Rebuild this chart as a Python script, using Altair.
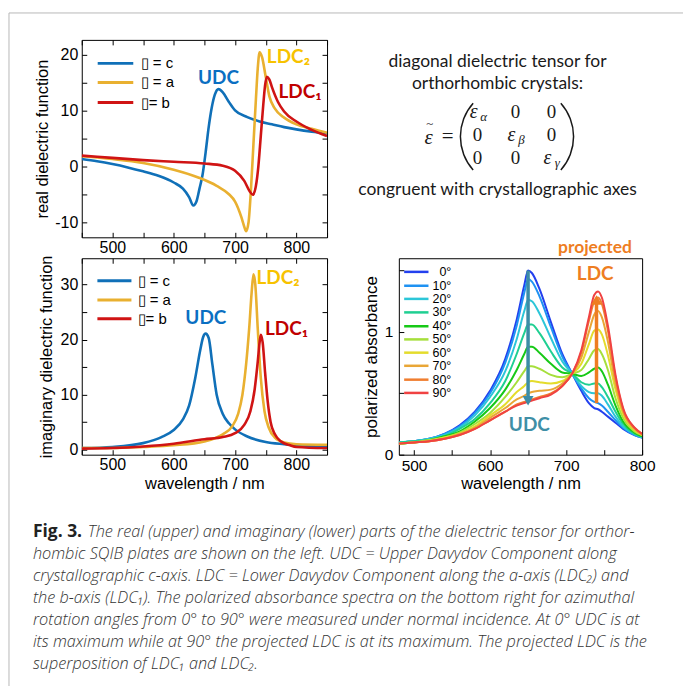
import altair as alt
import pandas as pd

FONT = "Liberation Sans"
ANN = "Lato"

# ---------------- data ----------------
SERIES = ["▯ = c", "▯ = a", "▯= b"]
SERIES_COLORS = ["#1070b8", "#e9b030", "#d01414"]

# real part of the dielectric function
re_c_wl = [450, 475, 500, 525, 550, 575, 600, 615, 625, 632, 637, 642, 647, 652, 657, 662, 667, 673, 680, 690, 700, 720, 740, 760, 780, 800, 825, 850]
re_c = [1.3, 0.9, 0.4, -0.2, -0.9, -1.7, -2.9, -4.0, -5.5, -7.0, -6.3, -4.0, -1.5, 2.5, 7.0, 10.5, 12.8, 13.8, 13.2, 11.5, 10.0, 8.8, 8.0, 7.5, 7.0, 6.6, 6.2, 5.9]
re_a_wl = [450, 500, 550, 600, 640, 670, 690, 700, 710, 715, 718, 722, 726, 730, 734, 737, 740, 744, 750, 756, 765, 780, 800, 825, 850]
re_a = [1.8, 1.3, 0.6, -0.6, -2.0, -3.5, -5.0, -6.3, -9.0, -10.8, -11.6, -10.0, -4.0, 4.0, 12.0, 17.5, 20.4, 19.5, 16.0, 12.5, 10.3, 8.7, 7.5, 6.7, 6.0]
re_b_wl = [450, 500, 550, 600, 650, 680, 700, 715, 724, 729, 734, 738, 742, 746, 749, 752, 756, 760, 770, 780, 800, 825, 850]
re_b = [1.9, 1.5, 1.1, 0.8, 0.5, 0.1, -0.8, -2.6, -4.5, -5.1, -3.5, 0.0, 5.5, 11.0, 14.5, 16.0, 15.5, 14.2, 11.5, 9.8, 8.0, 6.5, 5.4]

# imaginary part of the dielectric function
im_c_wl = [450, 500, 550, 580, 600, 615, 625, 635, 643, 648, 652, 657, 663, 670, 680, 690, 700, 720, 750, 780, 800, 850]
im_c = [0.3, 0.5, 1.2, 2.3, 3.6, 5.5, 8.0, 13.0, 18.0, 20.5, 21.1, 20.3, 15.5, 10.0, 6.5, 4.8, 3.7, 2.4, 1.4, 1.0, 0.8, 0.6]
im_a_wl = [450, 500, 550, 600, 650, 680, 695, 705, 712, 718, 723, 727, 730, 733, 737, 742, 748, 755, 765, 780, 800, 850]
im_a = [0.3, 0.3, 0.5, 0.8, 1.5, 2.8, 4.2, 6.5, 10.0, 15.5, 22.0, 28.5, 31.9, 30.0, 22.0, 13.0, 7.0, 4.0, 2.2, 1.3, 1.0, 0.9]
im_b_wl = [450, 500, 550, 600, 650, 680, 700, 715, 725, 732, 737, 740, 742, 745, 749, 753, 758, 765, 775, 790, 800, 850]
im_b = [0.2, 0.3, 0.6, 1.1, 1.9, 2.3, 3.0, 4.5, 7.0, 11.0, 16.0, 19.5, 20.9, 19.5, 14.0, 9.0, 5.0, 2.8, 1.5, 0.8, 0.5, 0.3]

# polarized absorbance for azimuthal angles
ANGLES = ["0°", "10°", "20°", "30°", "40°", "50°", "60°", "70°", "80°", "90°"]
ANGLE_COLORS = ["#2340ee", "#1f92f2", "#2cc6d8", "#1fcf92", "#17c917", "#a6df3c", "#e4dc2c", "#e9a636", "#f07e30", "#f04242"]
abs_wl = [480, 500, 520, 540, 560, 580, 600, 620, 635, 645, 650, 655, 665, 680, 695, 708, 720, 730, 737, 742, 747, 755, 765, 775, 790, 800]
a0 = [.10, .11, .13, .17, .24, .35, .52, .78, 1.10, 1.38, 1.50, 1.48, 1.35, 1.08, .82, .66, .52, .42, .38, .37, .35, .31, .26, .21, .16, .14]
a10 = [.10, .11, .13, .17, .23, .34, .50, .75, 1.05, 1.32, 1.43, 1.41, 1.29, 1.04, .80, .66, .54, .46, .43, .42, .40, .35, .28, .22, .16, .14]
a20 = [.10, .11, .13, .16, .22, .32, .47, .68, .94, 1.17, 1.26, 1.25, 1.15, .95, .76, .66, .56, .51, .50, .50, .48, .41, .31, .23, .17, .14]
a30 = [.10, .11, .12, .15, .21, .29, .42, .60, .82, .99, 1.06, 1.06, .99, .84, .71, .66, .59, .57, .58, .58, .55, .47, .35, .25, .17, .15]
a40 = [.09, .10, .12, .15, .19, .27, .38, .53, .69, .82, .88, .88, .83, .74, .67, .66, .64, .67, .70, .71, .68, .57, .40, .27, .18, .15]
a50 = [.09, .10, .12, .14, .18, .25, .34, .47, .59, .68, .72, .72, .70, .65, .63, .66, .69, .78, .85, .86, .82, .69, .46, .30, .19, .16]
a60 = [.09, .10, .11, .14, .17, .23, .32, .41, .51, .56, .59, .60, .59, .58, .60, .66, .74, .90, 1.01, 1.02, .98, .81, .53, .33, .20, .16]
a70 = [.09, .10, .11, .13, .17, .22, .30, .38, .45, .48, .50, .51, .52, .53, .58, .66, .79, 1.00, 1.14, 1.17, 1.12, .92, .58, .35, .21, .16]
a80 = [.09, .10, .11, .13, .16, .21, .28, .35, .41, .43, .44, .45, .47, .50, .56, .66, .83, 1.09, 1.25, 1.28, 1.23, 1.01, .63, .37, .22, .17]
a90 = [.09, .10, .11, .13, .16, .21, .28, .35, .40, .42, .43, .44, .46, .49, .56, .66, .85, 1.12, 1.30, 1.33, 1.28, 1.05, .65, .38, .22, .17]
ABS = [a0, a10, a20, a30, a40, a50, a60, a70, a80, a90]

# legend entries (in data units of each panel)
leg_re_y = [18.4, 15.0, 11.4]
leg_im_y = [30.7, 27.2, 23.8]
leg_abs_y = [1.489, 1.376, 1.269, 1.159, 1.046, 0.939, 0.831, 0.724, 0.611, 0.503]

CAPTION = [
    "The real (upper) and imaginary (lower) parts of the dielectric tensor for orthor-",
    "hombic SQIB plates are shown on the left. UDC = Upper Davydov Component along",
    "crystallographic c-axis. LDC = Lower Davydov Component along the a-axis (LDC₂) and",
    "the b-axis (LDC₁). The polarized absorbance spectra on the bottom right for azimuthal",
    "rotation angles from 0° to 90° were measured under normal incidence. At 0° UDC is at",
    "its maximum while at 90° the projected LDC is at its maximum. The projected LDC is the",
    "superposition of LDC₁ and LDC₂.",
]

# ---------------- tables ----------------
def long(pairs):
    rows = []
    for name, wl, vals in pairs:
        for w, v in zip(wl, vals):
            rows.append({"wl": w, "v": v, "series": name})
    return pd.DataFrame(rows)

df_re = long([(SERIES[0], re_c_wl, re_c), (SERIES[1], re_a_wl, re_a), (SERIES[2], re_b_wl, re_b)])
df_im = long([(SERIES[0], im_c_wl, im_c), (SERIES[1], im_a_wl, im_a), (SERIES[2], im_b_wl, im_b)])
df_abs = long([(ang, abs_wl, vals) for ang, vals in zip(ANGLES, ABS)])

ONE = pd.DataFrame({"k": [0]})
FRAME = alt.ViewBackground(stroke="black", strokeWidth=1)
NOFRAME = alt.ViewBackground(stroke="transparent")


def axis(orient, values, expr=None, labels=True, title=None, size=16, pad=3, **extra):
    kw = dict(orient=orient, values=values, offset=-5, tickSize=5, tickColor="black", tickWidth=1,
              domain=False, grid=False, labels=labels, labelFont=FONT, labelFontSize=size,
              labelColor="black", labelFlush=False, labelOverlap=False, labelPadding=pad,
              titleFont=FONT, titleFontSize=16.5, titleFontWeight="normal", titleColor="black",
              title=title)
    if expr:
        kw["labelExpr"] = expr
    kw.update(extra)
    return alt.Axis(**kw)


X_TICKS = [450, 500, 550, 600, 650, 700, 750, 800, 850]
X_EXPR = "datum.value % 100 == 0 && datum.value > 450 && datum.value < 850 ? '' + datum.value : ''"
Y10 = "datum.value % 10 == 0 ? '' + datum.value : ''"
cscale = alt.Scale(domain=SERIES, range=SERIES_COLORS)
xs = alt.Scale(domain=[450, 850], nice=False, zero=False)


def label(text, x, y, color, xs_, ys_, size=19, weight="bold", font=ANN):
    return alt.Chart(pd.DataFrame({"x": [x], "y": [y]})).mark_text(
        text=text, color=color, font=font, fontSize=size, fontWeight=weight,
        align="center", baseline="middle").encode(
        x=alt.X("x:Q", scale=xs_, axis=None), y=alt.Y("y:Q", scale=ys_, axis=None))


def dielectric_panel(df, ys, yticks, title, title_x, leg_y, leg_x, x_title, anns):
    xkw = {"titleY": 34, "titleBaseline": "middle"} if x_title else {}
    lines = alt.Chart(df).mark_line(strokeWidth=2.6, interpolate="monotone", clip=True).encode(
        x=alt.X("wl:Q", scale=xs, axis=axis("bottom", X_TICKS, X_EXPR, title=x_title, pad=2, **xkw)),
        y=alt.Y("v:Q", scale=ys, axis=axis("left", yticks, Y10, title=title, pad=4,
                                           titleX=title_x, titleBaseline="middle")),
        color=alt.Color("series:N", scale=cscale, legend=None),
    )
    mirror = alt.Chart(df).mark_line(strokeOpacity=0).encode(
        x=alt.X("wl:Q", scale=xs, axis=axis("top", X_TICKS, labels=False)),
        y=alt.Y("v:Q", scale=ys, axis=axis("right", yticks, labels=False)),
        detail="series:N",
    )
    leg = pd.DataFrame({"series": SERIES, "x0": [leg_x[0]] * 3, "x1": [leg_x[1]] * 3,
                        "xt": [leg_x[2]] * 3, "y": leg_y})
    leg_rules = alt.Chart(leg).mark_rule(strokeWidth=3).encode(
        x=alt.X("x0:Q", scale=xs, axis=None), x2="x1:Q",
        y=alt.Y("y:Q", scale=ys, axis=None),
        color=alt.Color("series:N", scale=cscale, legend=None))
    leg_text = alt.Chart(leg).mark_text(align="left", baseline="middle", font=FONT, fontSize=15,
                                        color="black").encode(
        x=alt.X("xt:Q", scale=xs, axis=None), y=alt.Y("y:Q", scale=ys, axis=None), text="series:N")
    return [lines, mirror, leg_rules, leg_text] + [label(t, x, y, c, xs, ys) for t, x, y, c in anns]


# ---- top-left: real part ----
ys_re = alt.Scale(domain=[-12.7, 22.6], nice=False, zero=False)
frame_top = alt.Chart(ONE).mark_rule(color="#b8b8b8", strokeWidth=1).encode(
    x=alt.value(-73), x2=alt.value(603), y=alt.value(-27))
frame_left = alt.Chart(ONE).mark_rule(color="#b8b8b8", strokeWidth=1).encode(
    x=alt.value(-73), y=alt.value(-27), y2=alt.value(648))
tl_layers = dielectric_panel(
    df_re, ys_re, [-10, -5, 0, 5, 10, 15, 20], "real dielectric function", -44.5,
    leg_re_y, (476, 534, 546), None,
    [("UDC", 673, 15.8, "#0a6fc2"), ("LDC₂", 787, 19.6, "#f7c200"), ("LDC₁", 806, 13.3, "#c00000")])
TL = alt.layer(frame_top, frame_left, *tl_layers).resolve_axis(x="independent", y="independent").properties(
    width=246, height=198, view=FRAME)

# ---- bottom-left: imaginary part ----
ys_im = alt.Scale(domain=[-0.9, 34.8], nice=False, zero=False)
bl_layers = dielectric_panel(
    df_im, ys_im, [0, 5, 10, 15, 20, 25, 30], "imaginary dielectric function", -40,
    leg_im_y, (475.5, 531, 541), "wavelength / nm",
    [("UDC", 652.4, 23.9, "#0a6fc2"), ("LDC₂", 770, 31.2, "#f7c200"), ("LDC₁", 784, 22, "#c00000")])
BL = alt.layer(*bl_layers).resolve_axis(x="independent", y="independent").properties(
    width=246, height=197, view=FRAME)

# ---- top-right: tensor text ----
def txt(t, x, y, size=17.5, font=ANN, style="normal", color="#1a1a1a", align="center", weight="normal"):
    return alt.Chart(ONE).mark_text(text=t, font=font, fontSize=size, fontStyle=style, color=color,
                                    align=align, baseline="middle", fontWeight=weight).encode(
        x=alt.value(x), y=alt.value(y))

SERIF = "Liberation Serif"
tr = [
    txt("diagonal dielectric tensor for", 99, 22),
    txt("orthorhombic crystals:", 99, 44),
    txt("congruent with crystallographic axes", 99, 151),
    txt("ε", 30, 98, size=21, font=SERIF, style="italic"),
    txt("~", 31, 84, size=13, font=SERIF),
    txt("=", 49, 97, size=21, font=SERIF),
]
cols = [79, 117, 153]
rows = [72, 95, 118]
greek = ["α", "β", "γ"]
for i in range(3):
    for j in range(3):
        if i == j:
            tr.append(txt("ε", cols[j] - 4, rows[i], size=20, font=SERIF, style="italic"))
            tr.append(txt(greek[i], cols[j] + 6, rows[i] + 5, size=13, font=SERIF, style="italic"))
        else:
            tr.append(txt("0", cols[j], rows[i], size=19, font=SERIF))
paren_l = alt.Chart(ONE).mark_arc(radius=51, radius2=49.5, theta=3.983, theta2=5.442, color="#1a1a1a").encode(
    x=alt.value(112), y=alt.value(97))
paren_r = alt.Chart(ONE).mark_arc(radius=51, radius2=49.5, theta=0.841, theta2=2.300, color="#1a1a1a").encode(
    x=alt.value(125), y=alt.value(97))
TR = alt.layer(*tr, paren_l, paren_r).properties(width=246, height=198, view=NOFRAME)

# ---- bottom-right: polarized absorbance ----
xs_abs = alt.Scale(domain=[480, 800], nice=False, zero=False)
ys_abs = alt.Scale(domain=[0, 1.6], nice=False, zero=False)
acs = alt.Scale(domain=ANGLES, range=ANGLE_COLORS)
abs_lines = alt.Chart(df_abs).mark_line(strokeWidth=2, interpolate="monotone", clip=True).encode(
    x=alt.X("wl:Q", scale=xs_abs, axis=axis("bottom", [500, 550, 600, 650, 700, 750, 800],
                                            "datum.value % 100 == 0 ? '' + datum.value : ''",
                                            title="wavelength / nm", size=15.5, pad=4,
                                            titleY=34, titleBaseline="middle")),
    y=alt.Y("v:Q", scale=ys_abs, axis=axis("left", [0, 0.5, 1, 1.5],
                                           "datum.value == 0 ? '0' : datum.value == 1 ? '1' : ''",
                                           title="polarized absorbance", size=15.5, pad=6,
                                           titleX=-32, titleBaseline="middle", titleFontSize=17)),
    color=alt.Color("series:N", scale=acs, legend=None),
)
leg_abs = pd.DataFrame({"series": ANGLES, "x0": [487] * 10, "x1": [519] * 10, "xt": [549] * 10, "y": leg_abs_y})
abs_leg_rules = alt.Chart(leg_abs).mark_rule(strokeWidth=2.5).encode(
    x=alt.X("x0:Q", scale=xs_abs, axis=None), x2="x1:Q", y=alt.Y("y:Q", scale=ys_abs, axis=None),
    color=alt.Color("series:N", scale=acs, legend=None))
abs_leg_text = alt.Chart(leg_abs).mark_text(align="right", baseline="middle", font=FONT, fontSize=12.5,
                                            color="black").encode(
    x=alt.X("xt:Q", scale=xs_abs, axis=None), y=alt.Y("y:Q", scale=ys_abs, axis=None), text="series:N")

arrow_x = [650, 740]
arrow_y0 = [1.50, 0.42]
arrow_y1 = [0.47, 1.23]
arrow_head = [0.44, 1.26]
ARROW_COLORS = ["#3c8ca6", "#ee7d22"]
arrows = []
for k, shape in enumerate(["triangle-down", "triangle-up"]):
    d = pd.DataFrame({"x": [arrow_x[k]], "y0": [arrow_y0[k]], "y1": [arrow_y1[k]], "h": [arrow_head[k]]})
    arrows.append(alt.Chart(d).mark_rule(strokeWidth=3.5, color=ARROW_COLORS[k]).encode(
        x=alt.X("x:Q", scale=xs_abs, axis=None), y=alt.Y("y0:Q", scale=ys_abs, axis=None), y2="y1:Q"))
    arrows.append(alt.Chart(d).mark_point(shape=shape, filled=True, size=120, opacity=1,
                                          color=ARROW_COLORS[k]).encode(
        x=alt.X("x:Q", scale=xs_abs, axis=None), y=alt.Y("h:Q", scale=ys_abs, axis=None)))

BR = alt.layer(
    abs_lines, abs_leg_rules, abs_leg_text, *arrows,
    label("UDC", 651.7, 0.24, "#3f8fa6", xs_abs, ys_abs),
    label("projected", 738, 1.685, "#ee7d22", xs_abs, ys_abs, size=17.5),
    label("LDC", 738.3, 1.473, "#ee7d22", xs_abs, ys_abs),
).resolve_axis(x="independent", y="independent").properties(width=244, height=197, view=FRAME)

# ---- caption ----
CAPFONT = "Open Sans"
cap = [txt("Fig. 3.", -49, 57, size=17.5, font=CAPFONT, weight="bold", align="left", color="#222")]
cap.append(txt(CAPTION[0], 6, 57, size=16.3, font=CAPFONT, style="italic", weight=300, align="left", color="#333"))
for i, line in enumerate(CAPTION[1:], start=1):
    cap.append(txt(line, -49, 57 + 22 * i, size=16.3, font=CAPFONT, style="italic", weight=300, align="left",
                   color="#333"))
CAP = alt.layer(*cap).properties(width=246, height=198, view=NOFRAME)

chart = alt.concat(TL, TR, BL, BR, CAP, columns=2, bounds="flush",
                   spacing=alt.RowColnumber(row=21, column=72)).resolve_scale(
    color="independent").properties(
    padding={"left": 8, "top": 11, "right": 0, "bottom": 0},
    background="white",
).configure_view(stroke="transparent")

chart.save("out.html", embed_options={"renderer": "svg", "actions": False})
